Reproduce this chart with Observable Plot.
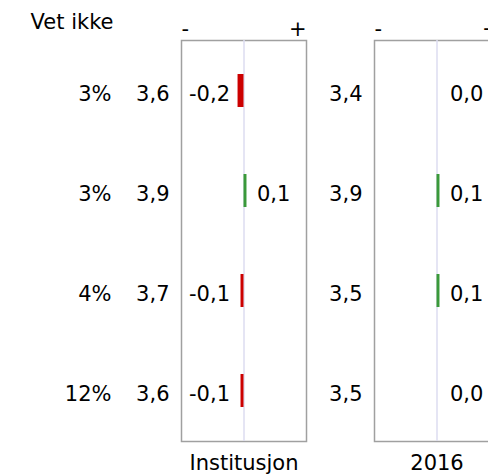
<!DOCTYPE html>
<html>
<head>
<meta charset="utf-8">
<script src="https://cdn.jsdelivr.net/npm/d3@7"></script>
<script src="https://cdn.jsdelivr.net/npm/@observablehq/plot@0.6"></script>
<style>
  html, body { margin: 0; padding: 0; background: #fff; overflow: hidden; width: 488px; height: 474px; }
  #chart { width: 488px; height: 474px; overflow: hidden; }
  #chart svg { display: block; }
</style>
</head>
<body>
<div id="chart"></div>
<script>
const panels = ["Institusjon", "2016"];
const rows = ["1", "2", "3", "4"];
const vetIkke = ["3%", "3%", "4%", "12%"];
const institusjonMean = [3.6, 3.9, 3.7, 3.6];
const institusjonDiff = [-0.2, 0.1, -0.1, -0.1];
const y2016Mean = [3.4, 3.9, 3.5, 3.5];
const y2016Diff = [0.0, 0.1, 0.1, 0.0];
const signLabels = ["-", "+"];
const headerLabel = "Vet ikke";

const fmt = v => v.toFixed(1).replace(".", ",");
const means = {"Institusjon": institusjonMean, "2016": y2016Mean};
const diffs = {"Institusjon": institusjonDiff, "2016": y2016Diff};
const data = panels.flatMap(p => rows.map((r, i) => ({
  panel: p, row: r, mean: means[p][i], diff: diffs[p][i], vet: vetIkke[i]
})));
const firstPanel = data.filter(d => d.panel === panels[0]);

const chart = Plot.plot({
  width: 488,
  height: 474,
  marginLeft: 180,
  marginRight: 0,
  marginTop: 40,
  marginBottom: 33,
  style: {fontFamily: "DejaVu Sans", fontSize: "21px", color: "#000", background: "#fff"},
  x: {domain: [-2.1, 2.1], axis: null},
  y: {domain: rows, axis: null, paddingInner: 0.67, paddingOuter: 0.335},
  fx: {domain: panels, range: [180, 500], paddingInner: 0.3505, paddingOuter: 0, axis: "bottom", tickSize: 0, tickPadding: 14, label: null},
  marks: [
    Plot.frame({stroke: "#a0a0a0", strokeWidth: 1.5}),
    Plot.ruleX([0], {stroke: "#dcdcf0", strokeWidth: 1.5}),
    Plot.barX(data, {x: "diff", y: "row", fx: "panel", fill: d => d.diff < 0 ? "#cc0000" : "#3a993a"}),
    Plot.text(data, {y: "row", fx: "panel", frameAnchor: "left", text: d => fmt(d.mean), textAnchor: "end", dx: -12, dy: 3}),
    Plot.text(data.filter(d => d.diff < 0), {x: 0, y: "row", fx: "panel", text: d => fmt(d.diff), textAnchor: "end", dx: -14, dy: 3}),
    Plot.text(data.filter(d => d.diff >= 0), {x: 0, y: "row", fx: "panel", text: d => fmt(d.diff), textAnchor: "start", dx: 13, dy: 3}),
    Plot.text(firstPanel, {y: "row", fx: "panel", frameAnchor: "left", text: "vet", textAnchor: "end", dx: -70, dy: 3}),
    Plot.text([signLabels[0]], {text: d => d, frameAnchor: "top-left", textAnchor: "start", lineAnchor: "bottom", dy: -5}),
    Plot.text([signLabels[1]], {text: d => d, frameAnchor: "top-right", textAnchor: "end", lineAnchor: "bottom", dy: -5}),
    Plot.text([{panel: panels[0], t: headerLabel}], {fx: "panel", text: "t", frameAnchor: "top-left", textAnchor: "end", lineAnchor: "bottom", dx: -68, dy: -12})
  ]
});
document.getElementById("chart").appendChild(chart);
</script>
</body>
</html>
